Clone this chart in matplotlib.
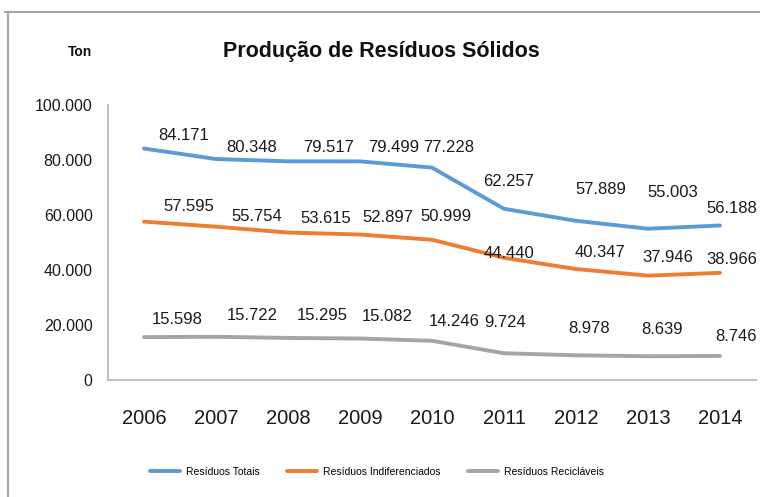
import matplotlib.pyplot as plt
from matplotlib.lines import Line2D

plt.rcParams['font.family'] = ['Liberation Sans', 'DejaVu Sans']

years = ['2006', '2007', '2008', '2009', '2010', '2011', '2012', '2013', '2014']
totais = [84171, 80348, 79517, 79499, 77228, 62257, 57889, 55003, 56188]
indiferenciados = [57595, 55754, 53615, 52897, 50999, 44440, 40347, 37946, 38966]
reciclaveis = [15598, 15722, 15295, 15082, 14246, 9724, 8978, 8639, 8746]
yticks = [0, 20000, 40000, 60000, 80000, 100000]
ytick_labels = ['0', '20.000', '40.000', '60.000', '80.000', '100.000']

# label offsets in pixels (dx, dy) from each point, as placed in the original
off_tot = [(40, 13), (36, 12), (41, 14), (34, 14), (17, 20), (5, 27), (25, 31), (25, 36), (12, 17)]
off_ind = [(45, 15), (41, 10), (38, 14), (28, 17), (14, 23), (5, 4), (24, 17), (20, 18), (12, 13)]
off_rec = [(33, 18), (36, 21), (34, 22), (27, 22), (22, 19), (1, 31), (13, 27), (14, 27), (16, 19)]


def fmt(v):
    return f"{v:,}".replace(",", ".")


fig = plt.figure(figsize=(7.6, 4.97), dpi=100)
ax = fig.add_axes([108 / 760, 1 - 380 / 497, 648 / 760, 275 / 497])

x = range(len(years))
series = [
    (totais, '#5B9BD5', 'Resíduos Totais', off_tot),
    (indiferenciados, '#ED7D31', 'Resíduos Indiferenciados', off_ind),
    (reciclaveis, '#A5A5A5', 'Resíduos Recicláveis', off_rec),
]
for vals, col, lab, offs in series:
    ax.plot(x, vals, color=col, lw=2.8, label=lab, solid_capstyle='round')
    for i, v in enumerate(vals):
        ax.annotate(fmt(v), (i, v), xytext=offs[i], textcoords='offset pixels',
                    ha='center', va='center', fontsize=12, color='#1a1a1a')

ax.set_xlim(-0.5, 8.5)
ax.set_ylim(0, 100000)
ax.set_xticks(list(x))
ax.set_xticklabels(years, fontsize=14.5, color='#1a1a1a')
ax.set_yticks(yticks)
ax.set_yticklabels(ytick_labels, fontsize=11.5, color='#1a1a1a')
ax.tick_params(length=0)
ax.tick_params(axis='x', pad=21)
ax.tick_params(axis='y', pad=11)
for s in ['top', 'right']:
    ax.spines[s].set_visible(False)
for s in ['left', 'bottom']:
    ax.spines[s].set_color('#BFBFBF')
    ax.spines[s].set_linewidth(1.5)

fig.text(381 / 760, 1 - 52 / 497, 'Produção de Resíduos Sólidos', ha='center', va='center',
         fontsize=15.5, fontweight='bold', color='#111111')
fig.text(80 / 760, 1 - 52 / 497, 'Ton', ha='center', va='center', fontsize=10,
         fontweight='bold', color='#111111')

fig.legend(loc='center', bbox_to_anchor=(377 / 760, 1 - 472 / 497), ncol=3, frameon=False,
           fontsize=7.5, handlelength=2.9, columnspacing=2.6, handletextpad=0.6)

# chart frame
fig.add_artist(Line2D([5 / 760, 1], [1 - 12 / 497] * 2, color='#A6A6A6', lw=1.5))
fig.add_artist(Line2D([8 / 760] * 2, [0, 1 - 12 / 497], color='#A6A6A6', lw=1.5))

fig.savefig('out.png', dpi=100)
